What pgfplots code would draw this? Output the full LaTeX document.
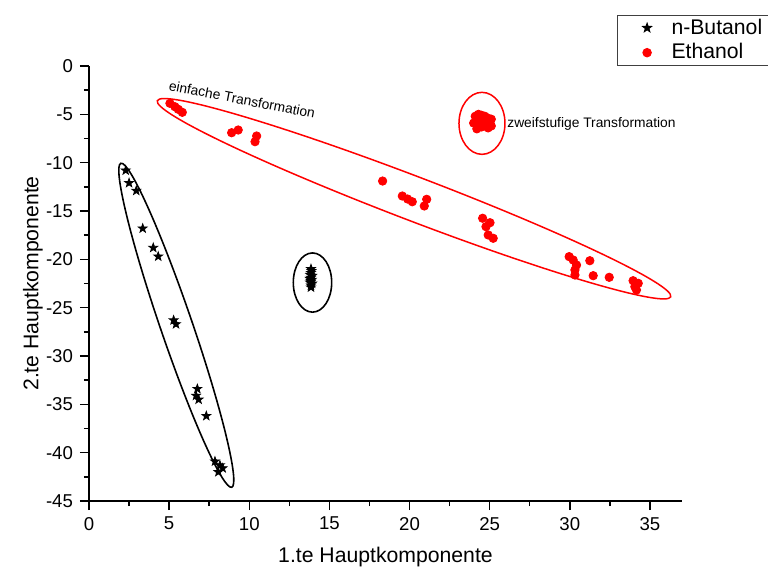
\documentclass[border=0pt]{standalone}
\usepackage{fontspec}
\setmainfont{Liberation Sans}
\usepackage{pgfplots}
\pgfplotsset{compat=1.18}

\pgfdeclareplotmark{fstar}{%
 \pgfpathmoveto{\pgfpointpolar{90}{\pgfplotmarksize}}%
 \pgfpathlineto{\pgfpointpolar{126}{0.4*\pgfplotmarksize}}%
 \pgfpathlineto{\pgfpointpolar{162}{\pgfplotmarksize}}%
 \pgfpathlineto{\pgfpointpolar{198}{0.4*\pgfplotmarksize}}%
 \pgfpathlineto{\pgfpointpolar{234}{\pgfplotmarksize}}%
 \pgfpathlineto{\pgfpointpolar{270}{0.4*\pgfplotmarksize}}%
 \pgfpathlineto{\pgfpointpolar{306}{\pgfplotmarksize}}%
 \pgfpathlineto{\pgfpointpolar{342}{0.4*\pgfplotmarksize}}%
 \pgfpathlineto{\pgfpointpolar{18}{\pgfplotmarksize}}%
 \pgfpathlineto{\pgfpointpolar{54}{0.4*\pgfplotmarksize}}%
 \pgfpathclose
 \pgfusepathqfillstroke}

\begin{document}
\begin{tikzpicture}[x=1pt,y=1pt]
\useasboundingbox (0,0) rectangle (384,285);
\begin{axis}[
 at={(44.5pt,34.5pt)}, anchor=south west,
 scale only axis, width=296.5pt, height=217.5pt,
 xmin=0, xmax=37, ymin=-45, ymax=0,
 clip=false,
 axis x line=bottom, axis y line=left,
 axis line style={-, line width=0.75pt},
 tick align=outside, major tick length=4.5pt, minor tick length=2.5pt,
 xtick={0,5,...,35}, ytick={-45,-40,...,0},
 minor x tick num=1, minor y tick num=1,
 every tick/.style={black, line width=0.75pt},
 tick label style={font=\fontsize{9.3}{11}\selectfont},
 /pgf/number format/assume math mode=true,
 xlabel={1.te Hauptkomponente},
 ylabel={2.te Hauptkomponente},
 label style={font=\fontsize{10.6}{13}\selectfont},
 xlabel style={at={(axis description cs:0.5,-0.1287)}, anchor=center},
 ylabel style={at={(axis description cs:-0.0944,0.5)}, anchor=center},
 legend style={at={(0.8904,1.1172)}, anchor=north west, draw=black!75, line width=0.5pt,
   font=\fontsize{10.6}{13}\selectfont, inner xsep=0pt, inner ysep=0pt, row sep=0pt,
   nodes={inner ysep=1.6pt, inner xsep=2pt}},
 legend image code/.code={\path[draw=none] (0pt,0pt) (25pt,0pt); \draw[#1] plot coordinates {(14.8pt,0pt)};},
 legend cell align=left,
]
\addplot[only marks, mark=fstar, mark size=2.3pt, black] coordinates {
(2.29,-10.8) (2.50,-12.1) (2.95,-12.9) (3.35,-16.8) (4.01,-18.8) (4.32,-19.7)
(5.28,-26.3) (5.43,-26.7) (6.76,-33.4) (6.68,-34.1) (6.84,-34.5) (7.32,-36.2)
(7.86,-40.9) (8.17,-41.3) (8.34,-41.6) (8.07,-42.0)
(13.85,-21.0) (13.88,-21.2) (13.85,-21.4) (13.80,-21.6) (13.92,-21.7) (13.85,-21.9)
(13.78,-22.0) (13.90,-22.1) (13.82,-22.2) (13.85,-22.3) (13.80,-22.4) (13.92,-22.5)
(13.85,-22.7) (13.85,-22.9)
};
\addlegendentry{n-Butanol\hspace*{12pt}}
\addplot[only marks, mark=*, mark size=2.1pt, red, mark options={draw=red, fill=red}] coordinates {
(5.05,-3.86) (5.36,-4.21) (5.57,-4.48) (5.82,-4.79)
(8.90,-6.90) (9.31,-6.62) (10.46,-7.24) (10.36,-7.83)
(18.32,-11.90) (19.55,-13.45) (19.88,-13.76) (20.17,-14.04) (21.07,-13.79) (20.92,-14.48)
(24.56,-15.75) (25.02,-16.21) (24.77,-16.62) (24.91,-17.48) (25.22,-17.82)
(29.96,-19.72) (30.21,-20.07) (30.42,-20.59) (30.32,-21.10) (30.32,-21.62)
(31.25,-20.14) (31.46,-21.69) (32.46,-21.86)
(33.95,-22.21) (34.27,-22.48) (34.06,-22.83) (34.16,-23.17)
(24.10,-5.20) (24.30,-5.00) (24.50,-5.10) (24.70,-5.20) (24.90,-5.40) (25.10,-5.50)
(24.20,-5.60) (24.40,-5.50) (24.60,-5.60) (24.80,-5.80) (25.00,-5.90) (25.10,-6.20)
(24.30,-6.00) (24.50,-6.30) (24.70,-6.10) (24.90,-6.40) (24.20,-6.50) (24.00,-5.90)
};
\addlegendentry{Ethanol}
\draw[black, line width=0.8pt] (axis cs:5.447,-26.82) ellipse [x radius=85.6pt, y radius=8pt, rotate=-71.1];
\draw[black, line width=0.8pt] (axis cs:13.945,-22.40) ellipse [x radius=9.6pt, y radius=14.8pt];
\draw[red, line width=0.75pt] (axis cs:24.52,-5.93) ellipse [x radius=11.5pt, y radius=15.5pt];
\draw[red, line width=0.75pt] (axis cs:20.28,-13.73) ellipse [x radius=137.4pt, y radius=11pt, rotate=-20.9];
\node[rotate=-11, font=\fontsize{6.9}{8}\selectfont, inner sep=0pt] at (axis cs:9.55,-3.45) {einfache Transformation};
\node[anchor=west, font=\fontsize{6.9}{8}\selectfont, inner sep=0pt] at (axis cs:26.08,-5.95) {zweifstufige Transformation};
\end{axis}
\end{tikzpicture}
\end{document}
